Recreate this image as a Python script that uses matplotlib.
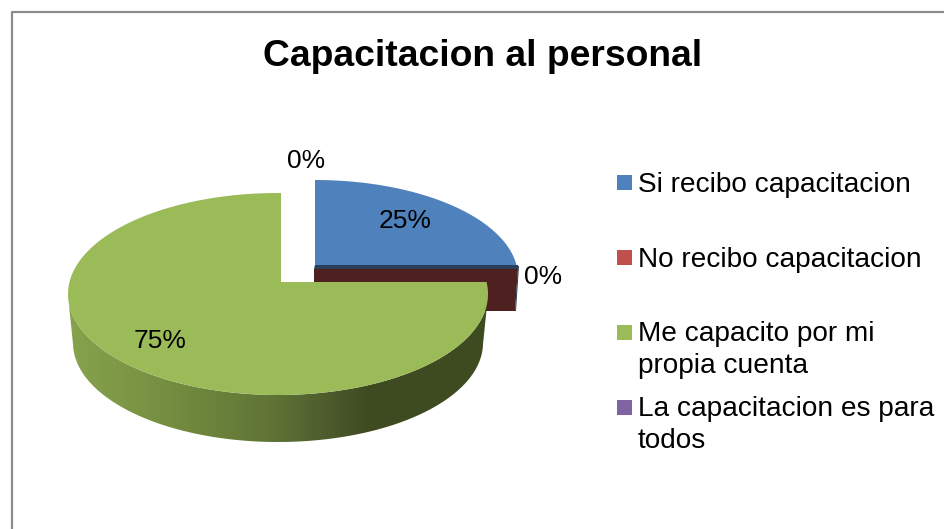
import numpy as np
import matplotlib
matplotlib.use('Agg')
import matplotlib.pyplot as plt
from matplotlib.patches import Polygon, Rectangle
from matplotlib.colors import LinearSegmentedColormap

plt.rcParams['font.family'] = ['Liberation Sans', 'DejaVu Sans']

titulo = 'Capacitacion al personal'
categorias = ['Si recibo capacitacion', 'No recibo capacitacion',
              'Me capacito por mi\npropia cuenta', 'La capacitacion es para\ntodos']
valores = [25, 0, 75, 0]
etiquetas = ['25%', '0%', '75%', '0%']
colores = ['#4f81bd', '#c0504d', '#9bbb59', '#8064a2']


def borde(apex, centro, rx, ry, f0, f1, n=300):
    # ray from the apex to the ellipse, fractions go clockwise from the top
    fi = np.radians(90 - 360 * np.linspace(f0, f1, n))
    dx, dy = np.cos(fi), -np.sin(fi)
    ox, oy = apex[0] - centro[0], apex[1] - centro[1]
    a = (dx / rx) ** 2 + (dy / ry) ** 2
    b = 2 * (ox * dx / rx ** 2 + oy * dy / ry ** 2)
    c = (ox / rx) ** 2 + (oy / ry) ** 2 - 1
    t = (-b + np.sqrt(b ** 2 - 4 * a * c)) / (2 * a)
    return apex[0] + t * dx, apex[1] + t * dy


fig = plt.figure(figsize=(9.45, 5.29), dpi=100)
ax = fig.add_axes([0, 0, 1, 1])
ax.axis('off')

# chart frame
ax.plot([11.5, 11.5, 945], [529, 11.5, 11.5], color='#8c8c8c', lw=1.6, zorder=1)

fracs = np.cumsum([0] + valores) / sum(valores)

# blue slice, pulled out, with the cut face of the empty red slice under it
x, y = borde((315, 265), (315, 277), 203, 97, fracs[0], fracs[1])
ax.add_patch(Polygon(np.c_[[315, *x], [265, *y]], fc=colores[0], ec='none', zorder=2))
ax.add_patch(Polygon([(314, 269), (518, 269), (515, 311), (314, 311)],
                     fc='#4f2020', ec='none', zorder=2))
ax.add_patch(Polygon([(315, 265), (518, 265), (518, 269), (314, 269)],
                     fc='#2a3f5c', ec='none', zorder=2))
ax.add_patch(Polygon([(518, 266), (519, 266), (516, 311), (515, 311)],
                     fc='#2a3f5c', ec='none', zorder=2))

# green slice: wall first with a clipped gradient, then the top face
xs, ys = borde((281, 282), (278, 294), 210, 101, fracs[2], fracs[3], 500)
xb = 278 + (xs - 278) * 205 / 210
yb = 343 + (ys - 294) * 99 / 101
abajo = np.where(ys >= 294)[0]
abajo = abajo[:np.argmax(np.diff(abajo) > 1)] if np.any(np.diff(abajo) > 1) else abajo
pared = Polygon(np.r_[np.c_[xs[abajo], ys[abajo]], np.c_[xb[abajo], yb[abajo]][::-1]],
                fc='none', ec='none', transform=ax.transData)
ax.add_patch(pared)
paso_x = [68, 130, 200, 280, 340, 370, 488]
paso_c = ['#87a34d', '#7c9645', '#6e863c', '#5d7135', '#49562a', '#3e4a20', '#3f4a20']
cmap = LinearSegmentedColormap.from_list(
    'pared', [((v - paso_x[0]) / (paso_x[-1] - paso_x[0]), c) for v, c in zip(paso_x, paso_c)])
im = ax.imshow(np.linspace(0, 1, 420)[None, :], cmap=cmap, aspect='auto',
               extent=(68, 488, 445, 290), zorder=3)
im.set_clip_path(pared)
ax.add_patch(Polygon(np.c_[[281, *xs], [282, *ys]], fc=colores[2], ec='none', zorder=4))

ax.set_xlim(0, 945)
ax.set_ylim(529, 0)

# data labels
pos_etq = [(405, 221), (543, 277), (160, 341), (306, 161)]
for t, (px, py) in zip(etiquetas, pos_etq):
    ax.text(px, py, t, fontsize=19, color='black', ha='center', va='center', zorder=5)

ax.text(483, 56, titulo, fontsize=26.8, fontweight='bold', ha='center', va='center')

# legend
ley_y = [183, 258, 333, 408]
for cat, c, ly in zip(categorias, colores, ley_y):
    ax.add_patch(Rectangle((617, ly - 8), 15, 15, fc=c, ec='none'))
    if '\n' in cat:
        ax.text(638, ly - 12, cat, fontsize=20.2, va='top', linespacing=1.3)
    else:
        ax.text(638, ly + 2, cat, fontsize=20.2, va='center')

fig.savefig('out.png', dpi=100)
